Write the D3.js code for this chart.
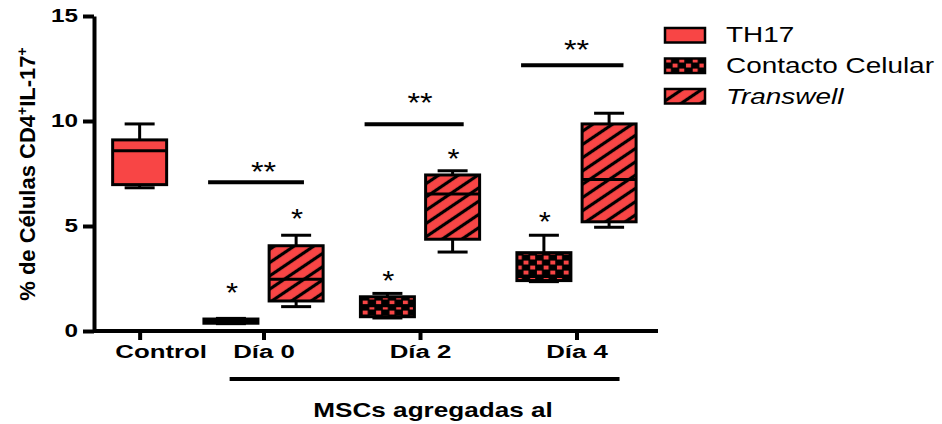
<!DOCTYPE html>
<meta charset="utf-8">
<style>
body { margin: 0; background: #fff; }
svg { display: block; font-family: "Liberation Sans", Arial, sans-serif; }
.axis path, .axis line { stroke: #000; stroke-width: 4px; }
.axis text { fill: #000; font-weight: bold; }
.box { stroke: #000; stroke-width: 3px; }
.whisker { stroke: #000; stroke-width: 3px; }
.sig { stroke: #000; stroke-width: 4px; }
</style>
<svg width="942" height="424"></svg>
<script src="https://d3js.org/d3.v7.min.js"></script>
<script>

// groups on the x axis
var categories = ["Control", "Día 0", "Día 2", "Día 4"];
var series = ["TH17", "Contacto Celular", "Transwell"];

// one entry per box
var boxGroup  = ["Control", "Día 0", "Día 0", "Día 2", "Día 2", "Día 4", "Día 4"];
var boxSeries = ["TH17", "Contacto Celular", "Transwell", "Contacto Celular", "Transwell", "Contacto Celular", "Transwell"];
var boxMin    = [6.82, 0.35, 1.16, 0.62, 3.76, 2.35, 4.94];
var boxQ1     = [6.97, 0.37, 1.43, 0.68, 4.37, 2.40, 5.20];
var boxMedian = [8.58, 0.48, 2.46, 1.20, 6.52, 2.60, 7.22];
var boxQ3     = [9.10, 0.57, 4.06, 1.63, 7.43, 3.73, 9.86];
var boxMax    = [9.86, 0.60, 4.56, 1.79, 7.63, 4.56, 10.37];
var boxStar   = ["", "*", "*", "*", "*", "*", ""];
var starLevel = [0, 2.1, 5.63, 2.67, 8.48, 5.48, 0];

// comparison bars (**)
var sigGroup = ["Día 0", "Día 2", "Día 4"];
var sigLevel = [7.08, 9.84, 12.65];
var sigLabelLevel = [7.86, 11.14, 13.67];
var sigLabel = ["**", "**", "**"];

var yTicks = [0, 5, 10, 15];
var red = "#f84545";

var svg = d3.select("svg");

// slot positions: control alone, then pairs per day
function slotOf(i) {
  if (i === 0) return 0;
  var g = Math.floor((i - 1) / 2), s = (i - 1) % 2;
  return 1.4 + 2.4 * g + s;
}
function groupCenter(name) {
  var idx = [];
  boxGroup.forEach(function(g, i) { if (g === name) idx.push(slotOf(i)); });
  return d3.mean(idx);
}

var x = d3.scaleLinear().domain([-0.7, 7.95]).range([94, 658]);
var y = d3.scaleLinear().domain([0, 15]).range([331, 16]);
var boxW = 54, capW = 30;
var starSize = 27;

var defs = svg.append("defs");

var check = defs.append("pattern")
    .attr("id", "checker")
    .attr("patternUnits", "userSpaceOnUse")
    .attr("width", 13.4).attr("height", 10);
check.append("rect").attr("width", 13.4).attr("height", 10).attr("fill", "#000");
check.append("rect").attr("x", 0.9).attr("y", 0.6).attr("width", 5).attr("height", 3.9).attr("fill", red);
check.append("rect").attr("x", 7.6).attr("y", 5.6).attr("width", 5).attr("height", 3.9).attr("fill", red);

var hatch = defs.append("pattern")
    .attr("id", "hatch")
    .attr("patternUnits", "userSpaceOnUse")
    .attr("width", 20).attr("height", 11)
    .attr("patternTransform", "rotate(-34)");
hatch.append("rect").attr("width", 20).attr("height", 11).attr("fill", red);
hatch.append("line").attr("x1", 0).attr("x2", 20).attr("y1", 5.5).attr("y2", 5.5)
    .attr("stroke", "#000").attr("stroke-width", 3.2);

function fillFor(s) {
  if (s === "TH17") return red;
  if (s === "Contacto Celular") return "url(#checker)";
  return "url(#hatch)";
}

// stretched text helper (the original fonts are wide)
function wideText(parent, px, py, sx, str) {
  return parent.append("text")
      .attr("transform", "translate(" + px + "," + py + ") scale(" + sx + ",1)")
      .text(str);
}

// axes
var yAxis = svg.append("g")
    .attr("class", "axis")
    .attr("transform", "translate(94,0)")
    .call(d3.axisLeft(y).tickValues(yTicks).tickSize(11).tickSizeOuter(0));
yAxis.selectAll("text")
    .attr("font-size", 18)
    .attr("x", -16 / 1.35)
    .attr("transform", "scale(1.35,1)");

var xAxis = svg.append("g")
    .attr("class", "axis")
    .attr("transform", "translate(0,331)")
    .call(d3.axisBottom(x)
      .tickValues(categories.map(groupCenter))
      .tickFormat(function(d, i) { return categories[i]; })
      .tickSize(9).tickPadding(5).tickSizeOuter(0));
xAxis.select(".domain").attr("d", "M94,0H658");
xAxis.selectAll("text")
    .attr("font-size", 19)
    .attr("x", function(d, i) { return i === 0 ? 21 / 1.36 : 0; })
    .attr("transform", "scale(1.36,1)");

// y title
var yt = svg.append("text")
    .attr("transform", "translate(35,174) rotate(-90)")
    .attr("text-anchor", "middle")
    .attr("font-size", 22)
    .attr("font-weight", "bold");
yt.append("tspan").text("% de Células CD4");
yt.append("tspan").attr("font-size", 14).attr("baseline-shift", "super").text("+");
yt.append("tspan").text("IL-17");
yt.append("tspan").attr("font-size", 14).attr("baseline-shift", "super").text("+");

// boxes
var boxes = svg.append("g").selectAll("g")
    .data(d3.range(boxGroup.length))
    .join("g");

boxes.each(function(i) {
  var g = d3.select(this), cx = x(slotOf(i));
  g.append("line").attr("class", "whisker")
      .attr("x1", cx).attr("x2", cx).attr("y1", y(boxMax[i])).attr("y2", y(boxQ3[i]));
  g.append("line").attr("class", "whisker")
      .attr("x1", cx).attr("x2", cx).attr("y1", y(boxMin[i])).attr("y2", y(boxQ1[i]));
  g.append("line").attr("class", "whisker")
      .attr("x1", cx - capW / 2).attr("x2", cx + capW / 2).attr("y1", y(boxMax[i])).attr("y2", y(boxMax[i]));
  g.append("line").attr("class", "whisker")
      .attr("x1", cx - capW / 2).attr("x2", cx + capW / 2).attr("y1", y(boxMin[i])).attr("y2", y(boxMin[i]));
  g.append("rect").attr("class", "box")
      .attr("x", cx - boxW / 2).attr("width", boxW)
      .attr("y", y(boxQ3[i])).attr("height", y(boxQ1[i]) - y(boxQ3[i]))
      .attr("fill", fillFor(boxSeries[i]));
  g.append("line").attr("class", "whisker")
      .attr("x1", cx - boxW / 2).attr("x2", cx + boxW / 2)
      .attr("y1", y(boxMedian[i])).attr("y2", y(boxMedian[i]));
  if (boxStar[i]) {
    wideText(g, cx + 1, y(starLevel[i]) + 0.55 * starSize, 1.15, boxStar[i])
        .attr("text-anchor", "middle")
        .attr("font-size", starSize);
  }
});

// comparison bars
sigGroup.forEach(function(name, k) {
  var idx = [];
  boxGroup.forEach(function(g, i) { if (g === name) idx.push(slotOf(i)); });
  svg.append("line").attr("class", "sig")
      .attr("x1", x(idx[0] - 0.35)).attr("x2", x(idx[1] + 0.12 + 0.05 * k))
      .attr("y1", y(sigLevel[k])).attr("y2", y(sigLevel[k]));
  wideText(svg, x(groupCenter(name)), y(sigLabelLevel[k]) + 0.55 * starSize, 1.2, sigLabel[k])
      .attr("text-anchor", "middle")
      .attr("font-size", starSize);
});

// bottom bracket
svg.append("line").attr("class", "sig")
    .attr("stroke-width", 3.5)
    .attr("x1", x(slotOf(1) - 0.02)).attr("x2", x(slotOf(6) + 0.16))
    .attr("y1", 379).attr("y2", 379);
wideText(svg, x(4.5), 416.5, 1.34, "MSCs agregadas al")
    .attr("text-anchor", "middle")
    .attr("font-size", 19.5)
    .attr("font-weight", "bold");

// legend
var legend = svg.append("g").attr("transform", "translate(665,28)");
series.forEach(function(s, i) {
  legend.append("rect")
      .attr("x", 0).attr("y", i * 30.5)
      .attr("width", 40).attr("height", 14.5)
      .attr("fill", fillFor(s))
      .attr("stroke", "#000").attr("stroke-width", 2.5);
  var t = wideText(legend, 61, 14 + i * 31, 1.27, s)
      .attr("font-size", 22);
  if (s === "Transwell") t.attr("font-style", "italic");
});

</script>
